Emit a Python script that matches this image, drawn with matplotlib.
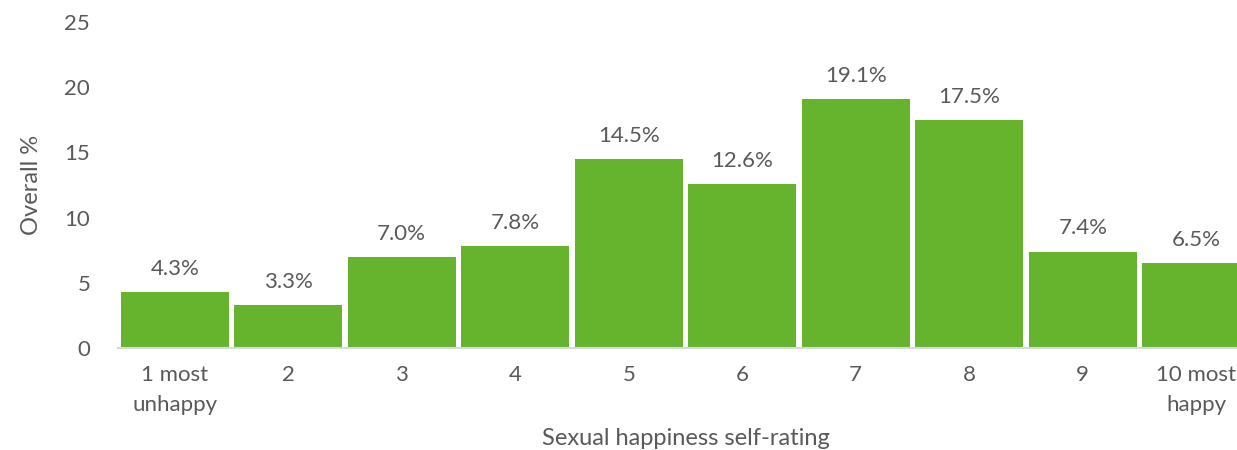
import matplotlib
matplotlib.use("Agg")
import matplotlib.pyplot as plt

categories = ["1 most\nunhappy", "2", "3", "4", "5", "6", "7", "8", "9", "10 most\nhappy"]
values = [4.3, 3.3, 7.0, 7.8, 14.5, 12.6, 19.1, 17.5, 7.4, 6.5]

plt.rcParams['font.family'] = ['Lato', 'DejaVu Sans']
text_color = '#595959'
green = '#66B32E'

fig = plt.figure(figsize=(12.37, 4.5), dpi=100)
# axes runs past the right edge, like the cropped original
ax = fig.add_axes([118 / 1237, (450 - 348) / 450, 1135 / 1237, 326 / 450])

x = range(len(values))
bars = ax.bar(x, values, width=0.95, color=green)
for b, v in zip(bars, values):
    ax.text(b.get_x() + b.get_width() / 2, v + 1.0, f"{v:.1f}%",
            ha='center', va='bottom', fontsize=16, color=text_color)

ax.set_xlim(-0.5, len(values) - 0.5)
ax.set_ylim(0, 25)
ax.set_yticks([0, 5, 10, 15, 20, 25])
ax.set_xticks(list(x))
ax.set_xticklabels(categories, linespacing=1.65)
ax.tick_params(axis='both', length=0, labelsize=16, labelcolor=text_color)
ax.tick_params(axis='x', pad=12)
ax.tick_params(axis='y', pad=20)

for s in ['top', 'right', 'left']:
    ax.spines[s].set_visible(False)
ax.spines['bottom'].set_color('#D9D9D9')
ax.spines['bottom'].set_linewidth(1.5)

ax.set_ylabel("Overall %", fontsize=17, color=text_color, labelpad=16)
ax.set_xlabel("Sexual happiness self-rating", fontsize=17, color=text_color, labelpad=9)

fig.savefig("out.png", dpi=100)
